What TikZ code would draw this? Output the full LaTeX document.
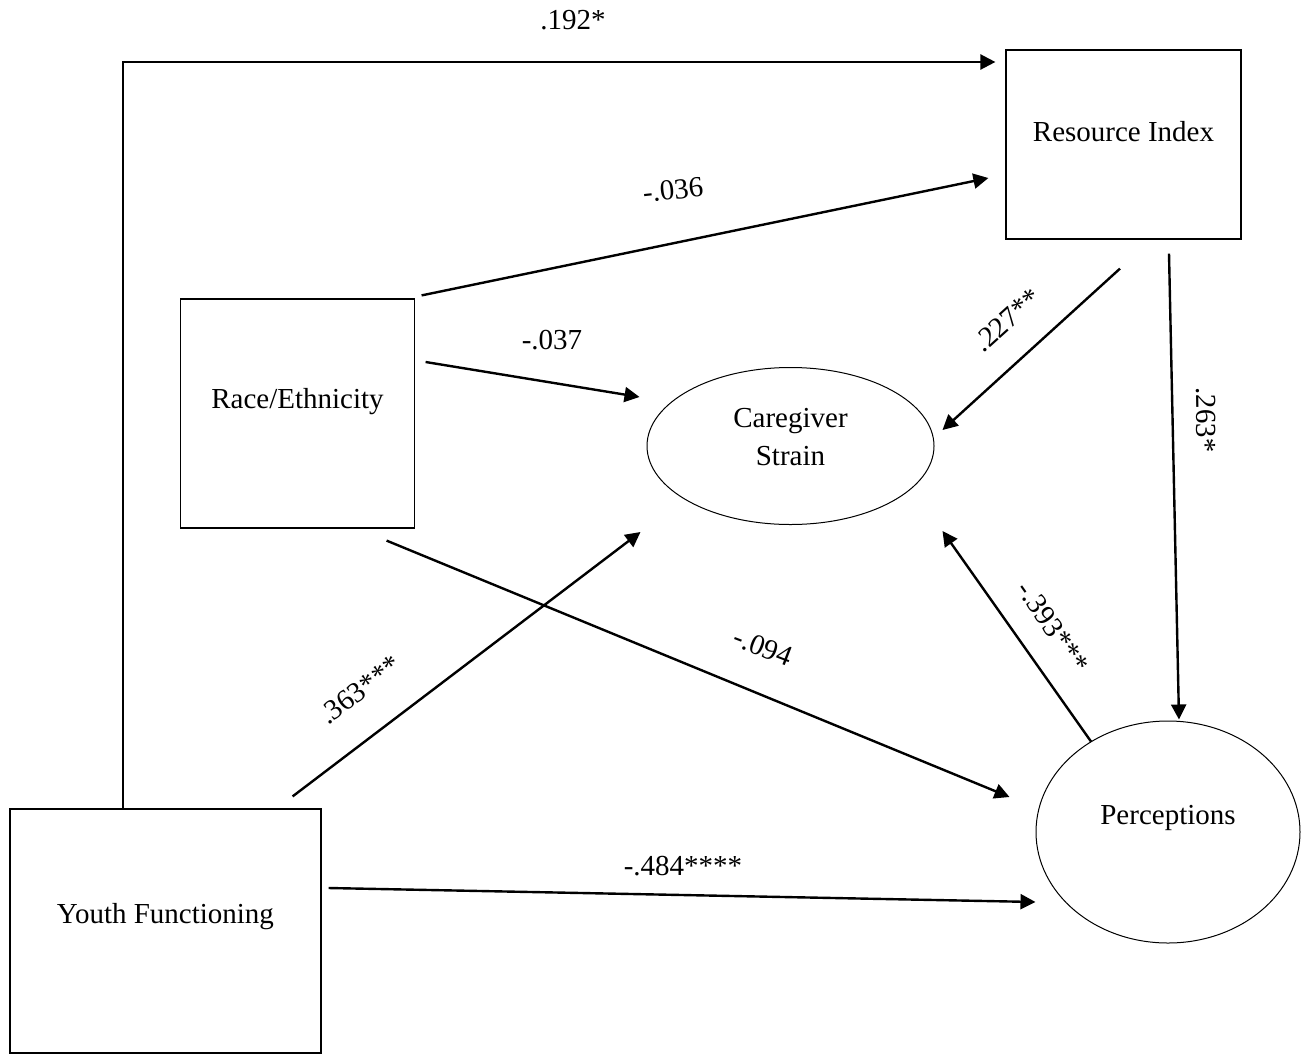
\documentclass[tikz,border=0pt]{standalone}
\usepackage{fontspec}
\setmainfont{Liberation Serif}
\usetikzlibrary{arrows.meta, positioning, shapes.geometric}

\begin{document}
\begin{tikzpicture}[
  x=0.5pt, y=-0.5pt,
  every node/.style={font=\fontsize{14.5}{19}\selectfont},
  varbox/.style={rectangle, draw=black, line width=0.6pt, inner sep=0pt},
  latent/.style={ellipse, draw=black, line width=0.5pt, inner sep=0pt},
  vartext/.style={align=center, inner sep=0pt},
  coef/.style={inner sep=1pt},
  arr/.style={-{Triangle[length=7.5pt, width=7.5pt]}, line width=1.2pt}
]
\useasboundingbox (0,0) rectangle (1306,1055);

% ===== OBSERVED VARIABLES =====
\node[varbox, minimum width=117.5pt, minimum height=94.5pt] (ri) at (1123.5,144.5) {};
\node[vartext] (ritxt) at ([yshift=6.25pt]ri.center) {Resource Index};
\node[varbox, minimum width=117pt, minimum height=114.5pt] (race) at (297.5,413.5) {};
\node[vartext] (racetxt) at ([yshift=5.75pt]race.center) {Race/Ethnicity};
\node[varbox, minimum width=155.5pt, minimum height=122pt] (yf) at (165.5,931) {};
\node[vartext] (yftxt) at ([yshift=7pt]yf.center) {Youth Functioning};

% ===== LATENT VARIABLES =====
\node[latent, minimum width=143.5pt, minimum height=78.5pt] (cs) at (790.5,446) {};
\node[vartext] (cstxt) at ([yshift=4.5pt]cs.center) {Caregiver\\Strain};
\node[latent, minimum width=132pt, minimum height=111pt] (pc) at (1168,832) {};
\node[vartext] (pctxt) at ([yshift=7pt]pc.center) {Perceptions};

% ===== PATHS =====
\draw[arr] ([shift={(-42.5,0)}]yf.north) |- ([shift={(-10,-82.5)}]ri.west);
\draw[arr] ([shift={(6.5,-3)}]race.north east) -- ([shift={(-17,33.5)}]ri.west);
\draw[arr] ([shift={(10.5,-51.5)}]race.east) -- ([shift={(-7,-49)}]cs.west);
\draw[arr] ([shift={(-3.5,29)}]ri.south) -- ([shift={(8,-16)}]cs.east);
\draw[arr] ([shift={(45.5,14)}]ri.south) -- ([shift={(11,-1)}]pc.north);
\draw[arr] ([shift={(-77,21)}]pc.north) -- ([shift={(8,85)}]cs.east);
\draw[arr] ([shift={(-29,-12)}]yf.north east) -- ([shift={(-6,86)}]cs.west);
\draw[arr] ([shift={(-28.5,12)}]race.south east) -- ([shift={(-26,-35)}]pc.west);
\draw[arr] ([shift={(7,-43)}]yf.east) -- ([shift={(0,70)}]pc.west);

% ===== COEFFICIENTS =====
\node[coef] (b192) at (573,20) {.192*};
\node[coef, rotate=6] (b036) at (673,190) {-.036};
\node[coef] (b037) at (552,340) {-.037};
\node[coef, rotate=42] (b227) at (1007,320) {.227**};
\node[coef, rotate=-89] (b263) at (1206,420) {.263*};
\node[coef, rotate=-55] (b393) at (1053,627) {-.393***};
\node[coef, rotate=37] (b363) at (360,690) {.363***};
\node[coef, rotate=-21] (b094) at (763,647) {-.094};
\node[coef] (b484) at (683,866) {-.484****};
\end{tikzpicture}
\end{document}
